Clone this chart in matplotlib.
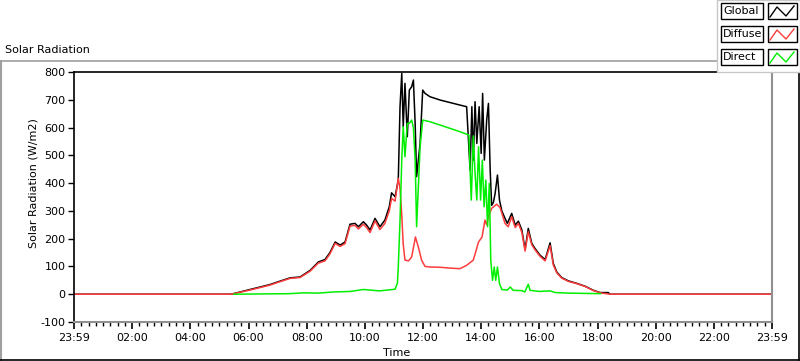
import matplotlib
matplotlib.use("Agg")
import matplotlib.pyplot as plt
from matplotlib.lines import Line2D
from matplotlib.patches import Rectangle
from matplotlib.ticker import MultipleLocator, FixedLocator

plt.rcParams['font.family'] = ['DejaVu Sans']

# ---- data (hours of day, W/m2) ----
global_t = [0.0, 5.40, 5.71, 6.05, 6.40, 6.74, 7.08, 7.43, 7.77, 8.12, 8.40, 8.63, 8.80, 8.98,
            9.15, 9.32, 9.49, 9.66, 9.78, 9.95, 10.06, 10.18, 10.35, 10.52, 10.69, 10.84, 10.92,
            11.04, 11.15, 11.21, 11.27, 11.32, 11.38, 11.46, 11.53, 11.61, 11.67, 11.73, 11.78,
            11.84, 11.90, 11.99, 12.07, 12.24, 12.59, 12.93, 13.27, 13.50, 13.62, 13.68, 13.73,
            13.79, 13.85, 13.93, 14.00, 14.05, 14.11, 14.19, 14.25, 14.31, 14.36, 14.42, 14.48,
            14.56, 14.63, 14.71, 14.82, 14.90, 15.05, 15.17, 15.28, 15.40, 15.51, 15.62, 15.74,
            15.85, 16.02, 16.20, 16.37, 16.48, 16.60, 16.77, 17.00, 17.29, 17.57, 17.86, 18.09,
            18.37, 18.43, 24.0]
global_v = [0, 0, 8, 17, 26, 35, 47, 59, 62, 86, 116, 125, 150, 188,
            177, 188, 252, 255, 243, 261, 249, 231, 273, 243, 267, 315, 365,
            351, 411, 675, 795, 603, 759, 567, 735, 747, 771, 615, 423,
            483, 543, 735, 723, 711, 699, 690, 681, 675, 447, 675, 483,
            693, 543, 675, 507, 723, 483, 627, 687, 447, 320, 330, 363,
            429, 339, 300, 273, 255, 291, 249, 263, 231, 161, 237, 183,
            165, 141, 125, 185, 111, 80, 60, 48, 39, 29, 14, 6,
            6, 0, 0]

diffuse_t = [0.0, 5.40, 5.71, 6.05, 6.40, 6.74, 7.08, 7.43, 7.77, 8.12, 8.40, 8.63, 8.80, 8.98,
             9.15, 9.32, 9.49, 9.66, 9.78, 9.95, 10.06, 10.18, 10.35, 10.52, 10.69, 10.84, 10.92,
             11.04, 11.15, 11.21, 11.27, 11.32, 11.38, 11.50, 11.61, 11.74, 11.84, 11.95, 12.07,
             12.24, 12.59, 12.93, 13.27, 13.50, 13.73, 13.91, 14.03, 14.13, 14.19, 14.25, 14.36,
             14.53, 14.65, 14.82, 14.93, 15.05, 15.17, 15.28, 15.40, 15.51, 15.62, 15.74, 15.85,
             16.02, 16.20, 16.37, 16.48, 16.60, 16.77, 17.00, 17.29, 17.57, 17.86, 18.09, 18.43, 24.0]
diffuse_v = [0, 0, 7, 15, 24, 33, 45, 57, 60, 83, 112, 120, 145, 183,
             172, 182, 245, 248, 235, 252, 240, 222, 264, 233, 255, 300, 345,
             335, 417, 380, 285, 180, 123, 120, 134, 206, 170, 123, 100,
             98, 97, 94, 92, 104, 123, 188, 206, 267, 250, 279, 309,
             324, 312, 255, 243, 279, 240, 255, 222, 155, 225, 178, 160,
             137, 120, 175, 105, 77, 58, 46, 38, 28, 13, 5, 0, 0]

direct_t = [5.50, 7.40, 7.90, 8.40, 8.90, 9.50, 9.95, 10.50, 11.04, 11.12, 11.15, 11.21, 11.27,
            11.32, 11.38, 11.46, 11.53, 11.61, 11.67, 11.73, 11.78, 11.84, 11.90, 11.99, 12.24,
            12.59, 12.93, 13.27, 13.58, 13.62, 13.66, 13.73, 13.79, 13.85, 13.91, 13.98, 14.04,
            14.10, 14.16, 14.22, 14.28, 14.33, 14.39, 14.45, 14.50, 14.56, 14.63, 14.71, 14.90,
            15.00, 15.10, 15.40, 15.50, 15.62, 15.68, 16.00, 16.37, 16.55, 17.00, 18.10]
direct_v = [0, 2, 5, 4, 8, 10, 17, 12, 18, 40, 98, 267, 483,
            603, 495, 615, 615, 627, 600, 483, 243, 387, 531, 627, 621,
            609, 597, 585, 573, 447, 339, 570, 435, 339, 531, 339, 483,
            315, 411, 243, 399, 123, 50, 98, 50, 98, 38, 17, 15,
            26, 14, 13, 8, 36, 14, 10, 12, 6, 4, 2]

series_names = ["Global", "Diffuse", "Direct"]
series_colors = ["#000000", "#ff3c3c", "#00ee00"]

x_tick_hours = [0, 2, 4, 6, 8, 10, 12, 14, 16, 18, 20, 22, 24]
x_tick_labels = ["23:59", "02:00", "04:00", "06:00", "08:00", "10:00", "12:00",
                 "14:00", "16:00", "18:00", "20:00", "22:00", "23:59"]
y_ticks = [-100, 0, 100, 200, 300, 400, 500, 600, 700, 800]

# ---- figure ----
W, H = 800, 361
fig = plt.figure(figsize=(W / 100, H / 100), dpi=100)
fig.patch.set_facecolor("white")

def fx(px):
    return px / W

def fy(py):
    return 1 - py / H

# panel border (sunken look)
fig.add_artist(Line2D([fx(0.5), fx(717)], [fy(61), fy(61)], color="#a0a0a0", lw=1.2, transform=fig.transFigure))
fig.add_artist(Line2D([fx(0.8), fx(0.8)], [fy(61), fy(359.5)], color="#a0a0a0", lw=1.5, transform=fig.transFigure))
fig.add_artist(Line2D([fx(0), fx(799)], [fy(359.5), fy(359.5)], color="#000000", lw=1.2, transform=fig.transFigure))
fig.add_artist(Line2D([fx(798.8), fx(798.8)], [fy(72), fy(359.5)], color="#000000", lw=1.2, transform=fig.transFigure))

ax = fig.add_axes([fx(74), fy(322), (772 - 74) / W, (322 - 72) / H])
ax.plot(global_t, global_v, color=series_colors[0], lw=1.1)
ax.plot(diffuse_t, diffuse_v, color=series_colors[1], lw=1.1)
ax.plot(direct_t, direct_v, color=series_colors[2], lw=1.1)

ax.set_xlim(0, 24)
ax.set_ylim(-100, 800)
ax.xaxis.set_major_locator(FixedLocator(x_tick_hours))
ax.set_xticklabels(x_tick_labels)
ax.xaxis.set_minor_locator(MultipleLocator(0.25))
ax.set_yticks(y_ticks)
ax.set_yticklabels([str(v) for v in y_ticks])
ax.tick_params(axis="x", which="major", length=5, width=1.2, labelsize=8, pad=3, color="black")
ax.tick_params(axis="x", which="minor", length=3, width=1, color="black")
ax.tick_params(axis="y", which="major", length=4, width=1, labelsize=8, pad=2, color="black")

for side in ["top", "left"]:
    ax.spines[side].set_color("black")
    ax.spines[side].set_linewidth(1.2)
for side in ["bottom", "right"]:
    ax.spines[side].set_color("#909090")
    ax.spines[side].set_linewidth(1.5)

fig.text(fx(5), fy(50), "Solar Radiation", fontsize=8, ha="left", va="center")
fig.text(fx(33), fy(183), "Solar Radiation (W/m2)", fontsize=8, rotation=90, ha="center", va="center")
fig.text(fx(397), fy(353), "Time", fontsize=8, ha="center", va="center")

# legend
fig.add_artist(Rectangle((fx(717), fy(72)), (800 - 717) / W, 72 / H, transform=fig.transFigure,
                         facecolor="white", edgecolor="#c8c8c8", lw=1, zorder=5))
row_tops = [3, 26, 49]
for name, col, top in zip(series_names, series_colors, row_tops):
    fig.add_artist(Rectangle((fx(721), fy(top + 16)), 42 / W, 16 / H, transform=fig.transFigure,
                             facecolor="white", edgecolor="black", lw=1, zorder=6))
    fig.text(fx(723), fy(top + 8), name, fontsize=8, ha="left", va="center", zorder=7)
    fig.add_artist(Rectangle((fx(768), fy(top + 16)), 29 / W, 16 / H, transform=fig.transFigure,
                             facecolor="white", edgecolor="black", lw=1, zorder=6))
    zx = [fx(770), fx(777), fx(786), fx(794)]
    zy = [fy(top + 14), fy(top + 4), fy(top + 13), fy(top + 3)]
    fig.add_artist(Line2D(zx, zy, color=col, lw=1, transform=fig.transFigure, zorder=7))

fig.savefig("out.png", dpi=100)
